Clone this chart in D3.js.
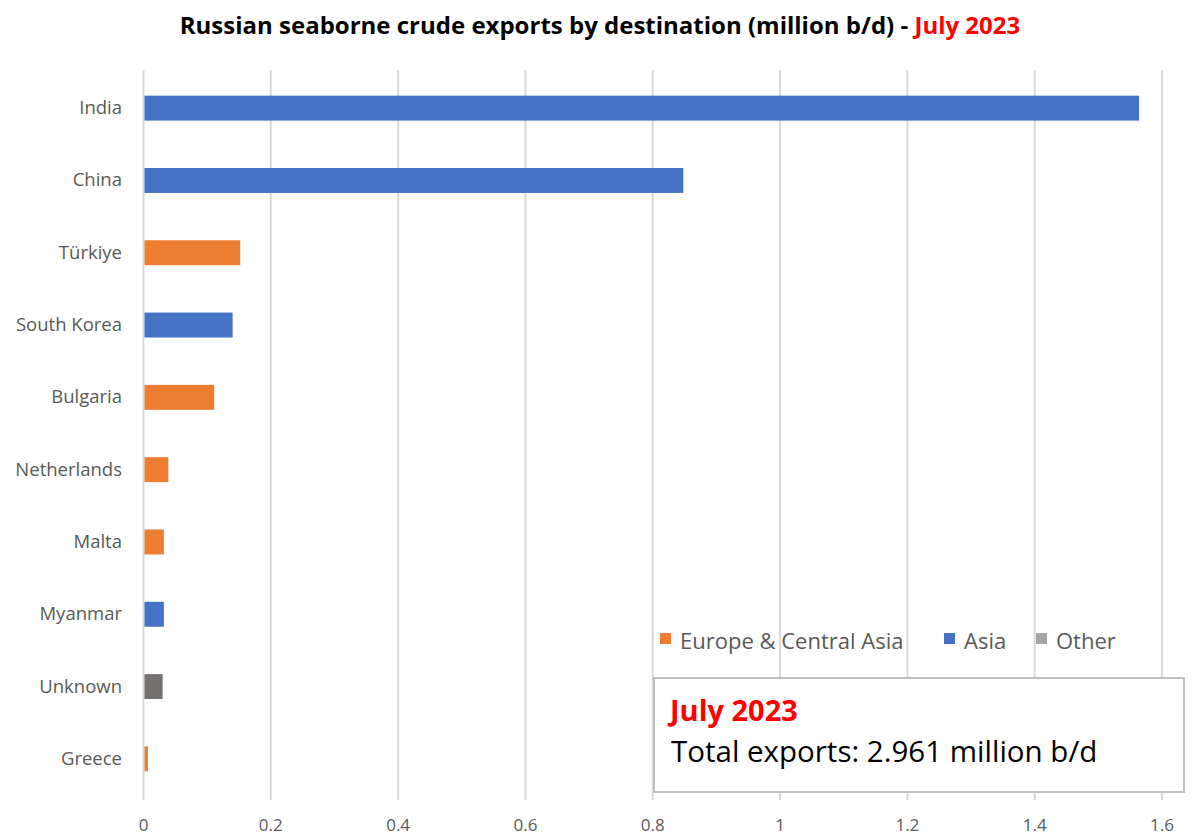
<!DOCTYPE html>
<html>
<head>
<meta charset="utf-8">
<script src="https://cdn.jsdelivr.net/npm/d3@7"></script>
<style>
  body { margin: 0; background: #fff; }
  text { font-family: "Open Sans", "Liberation Sans", sans-serif; }
</style>
</head>
<body>
<svg id="chart" width="1197" height="837"></svg>
<script>
// data
const countries = ["India", "China", "Türkiye", "South Korea", "Bulgaria", "Netherlands", "Malta", "Myanmar", "Unknown", "Greece"];
const exportsMbd = [1.564, 0.848, 0.152, 0.140, 0.111, 0.039, 0.032, 0.032, 0.030, 0.007];
const regions = ["Asia", "Asia", "Europe", "Asia", "Europe", "Europe", "Europe", "Asia", "Other", "Europe"];
const xTicks = [0, 0.2, 0.4, 0.6, 0.8, 1, 1.2, 1.4, 1.6];
const legendNames = ["Europe & Central Asia", "Asia", "Other"];

const barColor = {Europe: "#ED7D31", Asia: "#4472C4", Other: "#767171"};
const legendColor = ["#ED7D31", "#4472C4", "#A5A5A5"];

const svg = d3.select("#chart");

const x = d3.scaleLinear().domain([0, 1.6]).range([143.5, 1162]);
const y = d3.scaleBand().domain(countries).range([72, 795])
  .paddingInner(0.655).paddingOuter(0.3275);

// gridlines
svg.append("g")
  .selectAll("line")
  .data(xTicks)
  .join("line")
  .attr("x1", d => x(d)).attr("x2", d => x(d))
  .attr("y1", 70).attr("y2", 800)
  .attr("stroke", "#d9d9d9")
  .attr("stroke-width", 2);

// tick labels
svg.append("g")
  .selectAll("text")
  .data(xTicks)
  .join("text")
  .attr("x", d => x(d))
  .attr("y", 831)
  .attr("text-anchor", "middle")
  .attr("font-size", 17)
  .attr("fill", "#595959")
  .text(d => d);

// bars
svg.append("g")
  .selectAll("rect")
  .data(countries)
  .join("rect")
  .attr("x", x(0) + 1)
  .attr("y", d => y(d))
  .attr("width", (d, i) => x(exportsMbd[i]) - x(0) - 1)
  .attr("height", y.bandwidth())
  .attr("fill", (d, i) => barColor[regions[i]]);

// category labels
svg.append("g")
  .selectAll("text")
  .data(countries)
  .join("text")
  .attr("x", 122)
  .attr("y", d => y(d) + y.bandwidth() / 2 + 6)
  .attr("text-anchor", "end")
  .attr("font-size", 18.5)
  .attr("fill", "#595959")
  .text(d => d);

// title
const title = svg.append("text")
  .attr("x", 600)
  .attr("y", 34)
  .attr("text-anchor", "middle")
  .attr("font-size", 24)
  .attr("font-weight", "bold")
  .attr("fill", "#000");
title.append("tspan").text("Russian seaborne crude exports by destination (million b/d) - ");
title.append("tspan").attr("fill", "#FF0000").text("July 2023");

// legend
const legendX = [660, 944, 1036];
const lg = svg.append("g")
  .selectAll("g")
  .data(legendNames)
  .join("g")
  .attr("transform", (d, i) => "translate(" + legendX[i] + ",641)");
lg.append("rect")
  .attr("x", 0).attr("y", -8)
  .attr("width", 11).attr("height", 11)
  .attr("fill", (d, i) => legendColor[i]);
lg.append("text")
  .attr("x", 20)
  .attr("y", 8)
  .attr("font-size", 22)
  .attr("fill", "#595959")
  .text(d => d);

// total box
svg.append("rect")
  .attr("x", 654).attr("y", 678)
  .attr("width", 530).attr("height", 114)
  .attr("fill", "#fff")
  .attr("stroke", "#bfbfbf")
  .attr("stroke-width", 2);

svg.append("text")
  .attr("x", 670).attr("y", 721)
  .attr("font-size", 29)
  .attr("font-weight", "bold")
  .attr("fill", "#FF0000")
  .text("July 2023");

svg.append("text")
  .attr("x", 671).attr("y", 762)
  .attr("font-size", 29.5)
  .attr("fill", "#000")
  .text("Total exports: 2.961 million b/d");
</script>
</body>
</html>
